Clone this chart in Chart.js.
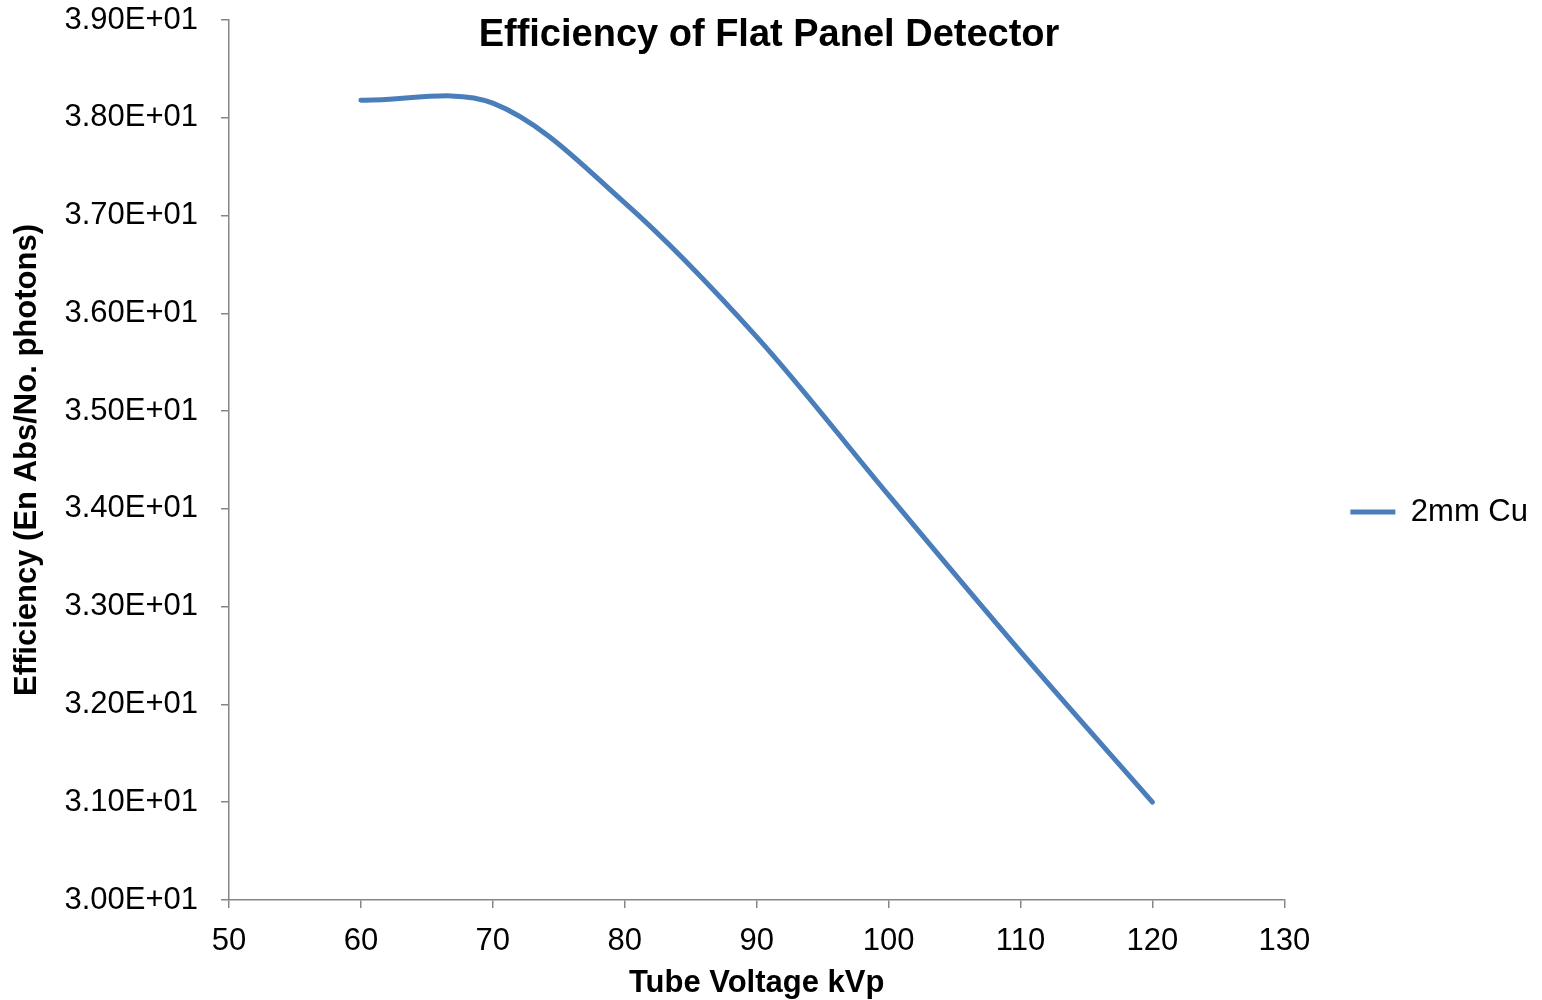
<!DOCTYPE html>
<html><head><meta charset="utf-8">
<script src="https://cdn.jsdelivr.net/npm/chart.js@4.4.1/dist/chart.umd.min.js"></script>
<style>html,body{margin:0;padding:0;background:#fff}#wrap{width:1542px;height:1000px}</style>
</head><body><div id="wrap"><canvas id="c" width="1542" height="1000"></canvas></div>
<script>
const kvp = [60, 70, 80, 90, 100, 110, 120];
const efficiency2mmCu = [38.18, 38.15, 37.13, 35.76, 34.14, 32.54, 31.00];
const seriesName = '2mm Cu';
const xTickValues = [50, 60, 70, 80, 90, 100, 110, 120, 130];
const yTickValues = [30, 31, 32, 33, 34, 35, 36, 37, 38, 39];
const yTickLabels = ['3.00E+01','3.10E+01','3.20E+01','3.30E+01','3.40E+01','3.50E+01','3.60E+01','3.70E+01','3.80E+01','3.90E+01'];
const chartTitle = 'Efficiency of Flat Panel Detector';
const xTitle = 'Tube Voltage kVp';
const yTitle = 'Efficiency (En Abs/No. photons)';

const FONT = "'Liberation Sans', Arial, sans-serif";
const AXIS = '#868686';
const LINE = '#4A7EBB';

new Chart(document.getElementById('c'), {
  type: 'line',
  data: {
    datasets: [{
      label: seriesName,
      data: kvp.map((x, i) => ({x: x, y: efficiency2mmCu[i]})),
      borderColor: LINE,
      backgroundColor: LINE,
      borderWidth: 5,
      pointRadius: 0,
      pointHoverRadius: 0,
      tension: 0.33,
      borderCapStyle: 'round',
      borderJoinStyle: 'round',
      fill: false
    }]
  },
  options: {
    responsive: false,
    animation: false,
    devicePixelRatio: 1,
    layout: {padding: {left: 0, top: 0, right: 4, bottom: 0}},
    plugins: {
      tooltip: {enabled: false},
      title: {
        display: true,
        text: chartTitle,
        color: '#000',
        font: {family: FONT, size: 38, weight: 'bold', lineHeight: 1.2},
        padding: {top: 13, bottom: -38.6}
      },
      legend: {
        position: 'right',
        title: {display: true, text: '', padding: {top: 0, bottom: 0}, font: {size: 40, lineHeight: 0.6}},
        labels: {
          usePointStyle: true,
          pointStyle: 'line',
          pointStyleWidth: 45,
          boxHeight: 5,
          padding: 66,
          color: '#000',
          font: {family: FONT, size: 31}
        }
      }
    },
    scales: {
      x: {
        type: 'linear',
        min: 50, max: 130,
        afterBuildTicks: s => { s.ticks = xTickValues.map(v => ({value: v})); },
        afterFit: s => { s.height = 100; },
        ticks: {color: '#000', font: {family: FONT, size: 31}, padding: 15, maxRotation: 0},
        grid: {display: true, drawOnChartArea: false, drawTicks: true, tickLength: 8, color: AXIS, lineWidth: 1.5},
        border: {display: true, color: AXIS, width: 1.5},
        title: {display: true, text: xTitle, color: '#000', font: {family: FONT, size: 31, weight: 'bold', lineHeight: 1.2}, padding: {top: 0, bottom: -2}}
      },
      y: {
        type: 'linear',
        min: 30, max: 39,
        afterBuildTicks: s => { s.ticks = yTickValues.map(v => ({value: v})); },
        afterFit: s => { s.width = 229; s.paddingTop = 18; s.paddingBottom = 18; },
        ticks: {color: '#000', font: {family: FONT, size: 31}, padding: 23, callback: (v, i) => yTickLabels[i]},
        grid: {display: true, drawOnChartArea: false, drawTicks: true, tickLength: 8, color: AXIS, lineWidth: 1.5},
        border: {display: true, color: AXIS, width: 1.5},
        title: {display: true, text: yTitle, color: '#000', font: {family: FONT, size: 31, weight: 'bold', lineHeight: 1.2}, padding: {top: 9, bottom: 9}}
      }
    }
  }
});
</script>
</body></html>
